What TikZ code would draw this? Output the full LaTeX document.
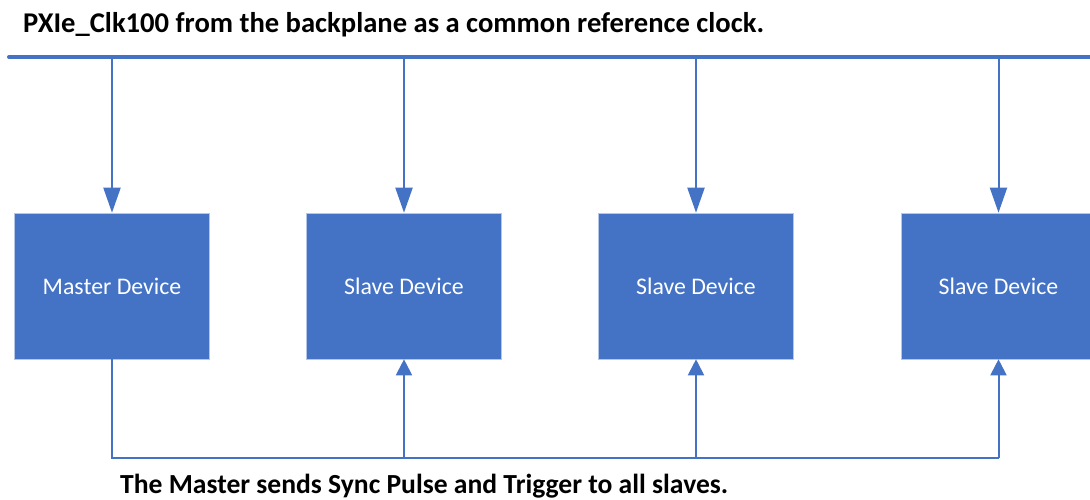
\documentclass[tikz,border=0pt]{standalone}
\usepackage{fontspec}
\setmainfont{Carlito}
\usetikzlibrary{arrows.meta}
\definecolor{acc}{HTML}{4472C4}
\definecolor{edge}{HTML}{B4C7E7}
\tikzset{
  dev/.style={fill=acc, draw=edge, line width=0.6pt, minimum width=195pt, minimum height=146pt, inner sep=0pt, text=white, font=\fontsize{23.8}{28}\selectfont},
  conn/.style={draw=acc, line width=2pt},
  downarr/.style={conn, -{Triangle[length=25pt,width=17pt]}},
  uparr/.style={conn, -{Triangle[length=16pt,width=16pt]}},
  caption/.style={anchor=west, inner sep=0pt, font=\bfseries\fontsize{28.6}{33}\selectfont},
  caption2/.style={anchor=west, inner sep=0pt, font=\bfseries\fontsize{27.6}{32}\selectfont},
}
\begin{document}
\begin{tikzpicture}[x=1pt,y=-1pt]
\useasboundingbox (0,0) rectangle (1090,499);
\clip (0,0) rectangle (1090,499);
\node[caption] (top) at (23,25) {PXIe\_Clk100 from the backplane as a common reference clock.};
\coordinate (busL) at (9,57);
\coordinate (busR) at (1100,57);
\draw[draw=acc, line width=4pt, line cap=round] (busL) -- (busR);
\node[dev] (m) at (112,286) {Master Device};
\node[dev] (s1) at (404,286) {Slave Device};
\node[dev] (s2) at (696,286) {Slave Device};
\node[dev] (s3) at (998.5,286) {Slave Device};
\foreach \n in {m,s1,s2,s3}{
  \draw[downarr] (\n.north |- busR) -- (\n.north);
}
\coordinate (b0) at (112,458);
\draw[conn] (m.south) -- (b0) -- (b0 -| s3.south);
\foreach \n in {s1,s2,s3}{
  \draw[uparr] (\n.south |- b0) -- (\n.south);
}
\node[caption2] (bot) at (120,486) {The Master sends Sync Pulse and Trigger to all slaves.};
\end{tikzpicture}
\end{document}
